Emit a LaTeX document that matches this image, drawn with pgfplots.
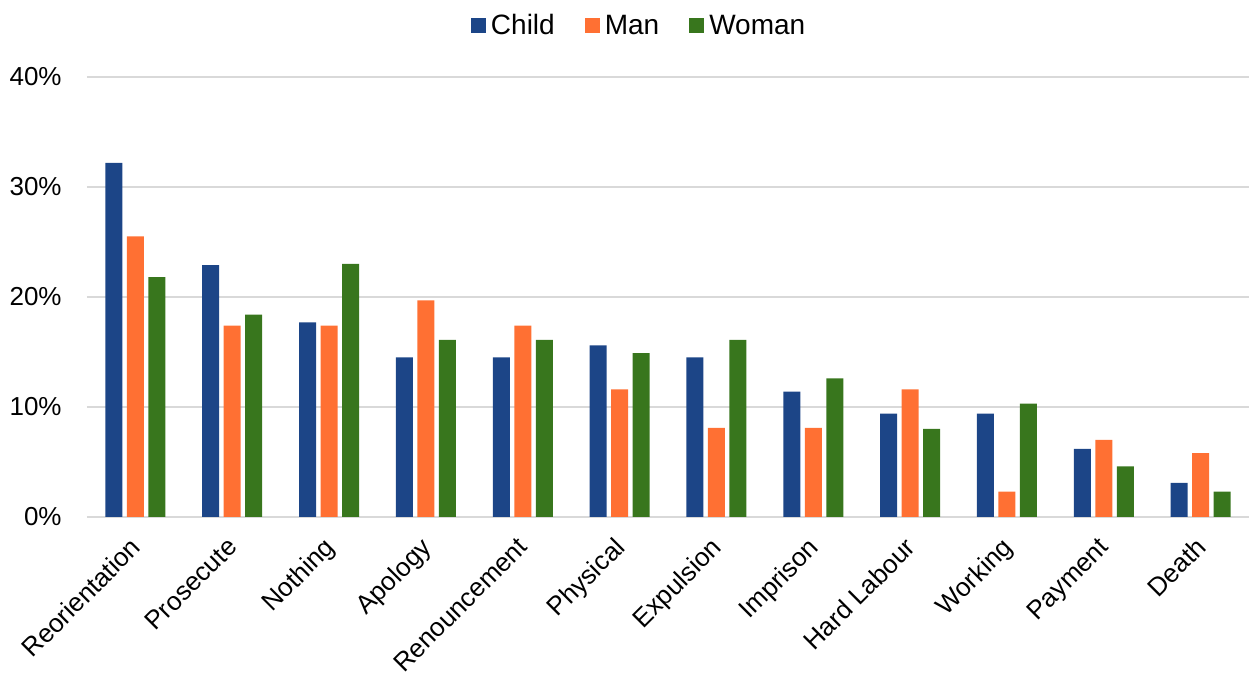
\documentclass[border=0pt]{standalone}
\usepackage{fontspec}
\setmainfont{Liberation Sans}
\usepackage{pgfplots}
\pgfplotsset{compat=1.18}
\usetikzlibrary{calc}
\definecolor{cchild}{RGB}{28,69,135}
\definecolor{cman}{RGB}{255,112,51}
\definecolor{cwoman}{RGB}{56,118,29}
\definecolor{gridgray}{RGB}{217,217,217}
\begin{document}
\begin{tikzpicture}
\begin{axis}[
  scale only axis,
  width=581pt, height=220pt,
  xmin=-0.5, xmax=11.5,
  ymin=0, ymax=40,
  ybar=2.25pt,
  bar width=8.5pt,
  axis line style={draw=none},
  tick style={draw=none},
  ymajorgrids,
  major grid style={gridgray, line width=1pt},
  ytick={0,10,20,30,40},
  yticklabel={\pgfmathprintnumber{\tick}\%},
  /pgf/number format/assume math mode=true,
  yticklabel style={font=\fontsize{13}{15}\selectfont, inner sep=0pt, anchor=east, xshift=-12.5pt},
  xtick={0,...,11},
  xticklabels={Reorientation,Prosecute,Nothing,Apology,Renouncement,Physical,Expulsion,Imprison,Hard Labour,Working,Payment,Death},
  xticklabel style={font=\fontsize{13}{15}\selectfont, inner sep=0pt, xshift=-3.25pt, yshift=-5pt, rotate=45, anchor=north east},
  legend columns=3,
  legend style={at={(axis description cs:0.476,1)}, anchor=center, yshift=25.5pt, draw=none, fill=none,
    font=\fontsize{14}{16}\selectfont,
    /tikz/every even column/.style={column sep=13pt},
    /tikz/every odd column/.style={column sep=0.5pt}},
  legend image code/.code={\fill[#1] (0pt,-3.75pt) rectangle (7.5pt,3.75pt);},
]
\addplot[fill=cchild, draw=none] coordinates {(0,32.2) (1,22.9) (2,17.7) (3,14.5) (4,14.5) (5,15.6) (6,14.5) (7,11.4) (8,9.4) (9,9.4) (10,6.2) (11,3.1)};
\addplot[fill=cman, draw=none] coordinates {(0,25.5) (1,17.4) (2,17.4) (3,19.7) (4,17.4) (5,11.6) (6,8.1) (7,8.1) (8,11.6) (9,2.3) (10,7.0) (11,5.8)};
\addplot[fill=cwoman, draw=none] coordinates {(0,21.8) (1,18.4) (2,23.0) (3,16.1) (4,16.1) (5,14.9) (6,16.1) (7,12.6) (8,8.0) (9,10.3) (10,4.6) (11,2.3)};
\addlegendentry{Child}
\addlegendentry{Man}
\addlegendentry{Woman}
\end{axis}
\pgfresetboundingbox
\path[use as bounding box] ($(current axis.south west)+(-43.5pt,-80pt)$) rectangle ($(current axis.north east)+(0pt,38.5pt)$);
\end{tikzpicture}
\end{document}
